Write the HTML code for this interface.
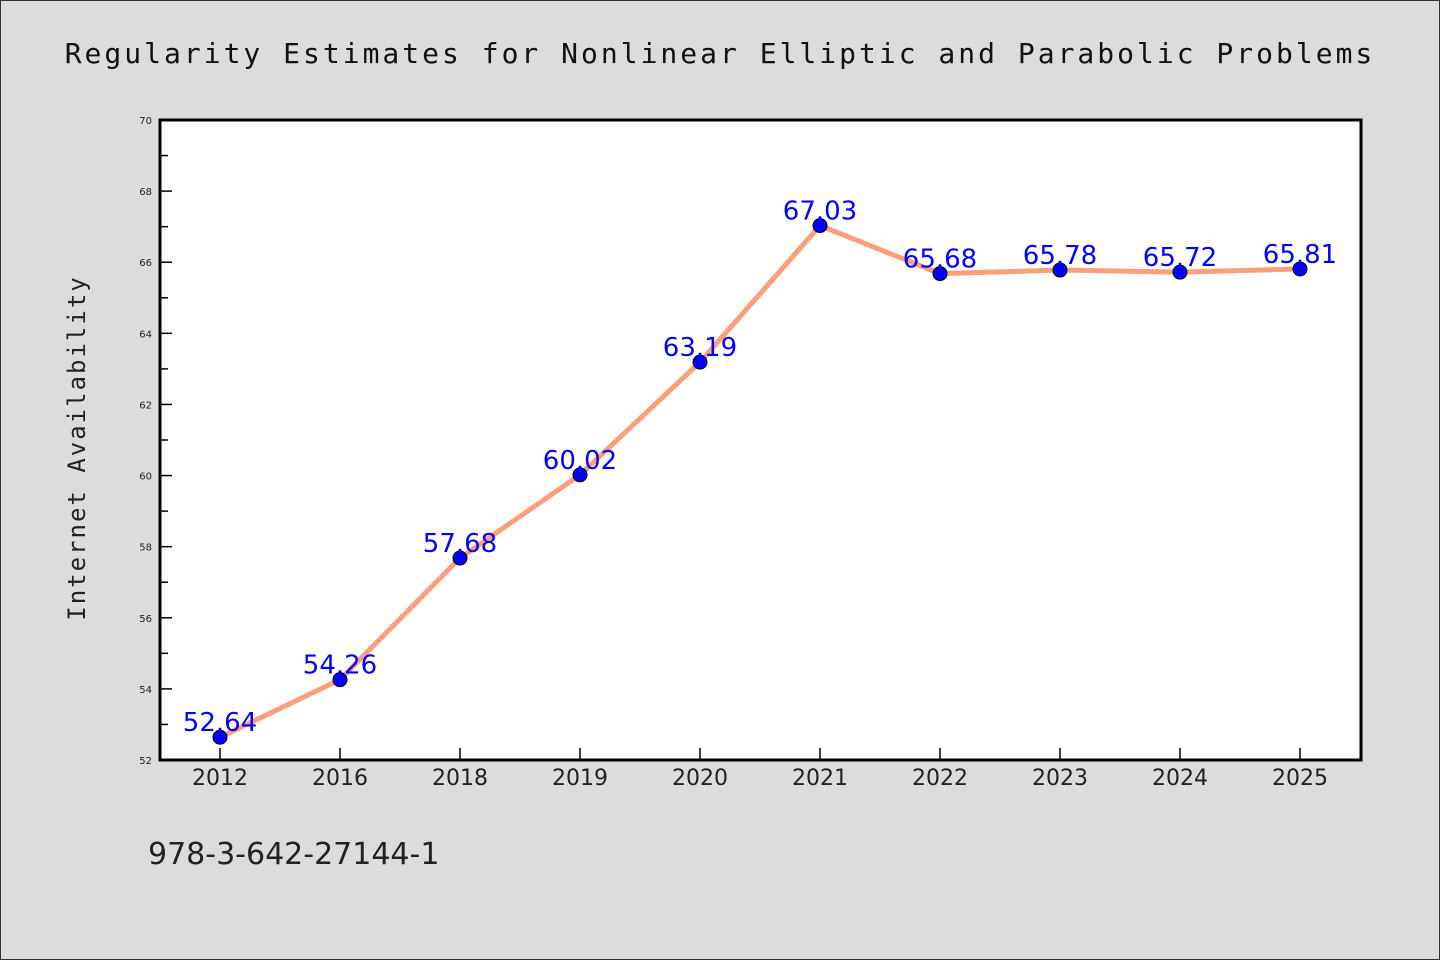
<!DOCTYPE html>
<html><head><meta charset="utf-8"><style>
html,body{margin:0;padding:0;background:#dcdcdc;}
svg{display:block;}
</style></head><body>
<svg id="chart" width="1440" height="960" xmlns="http://www.w3.org/2000/svg">
<rect x="0.5" y="0.5" width="1439" height="959" fill="#dcdcdc" stroke="#333"/>
<text x="720" y="63" text-anchor="middle" font-family="DejaVu Sans Mono, Liberation Mono, monospace" font-size="28" letter-spacing="3" fill="#111">Regularity Estimates for Nonlinear Elliptic and Parabolic Problems</text>
<rect x="160" y="120" width="1201" height="640" fill="#fff"/>
<g id="axes"></g>
<g id="marks"></g>
<rect x="160" y="120" width="1201" height="640" fill="none" stroke="#000" stroke-width="3"/>
<text transform="translate(85,448) rotate(-90)" text-anchor="middle" font-family="DejaVu Sans Mono, Liberation Mono, monospace" font-size="24" letter-spacing="2" fill="#222">Internet Availability</text>
<text x="148" y="864" font-family="DejaVu Sans, Liberation Sans, sans-serif" font-size="30" fill="#222">978-3-642-27144-1</text>
</svg>
<script>
const categories=["2012","2016","2018","2019","2020","2021","2022","2023","2024","2025"];
const values=[52.64,54.26,57.68,60.02,63.19,67.03,65.68,65.78,65.72,65.81];
const yTicks=[52,54,56,58,60,62,64,66,68,70];
const NS="http://www.w3.org/2000/svg";
const X0=160,X1=1360,Y0=760,Y1=120,YMIN=52,YMAX=70;
const step=(X1-X0)/categories.length;
function xs(i){return X0+step*(i+0.5);}
function ys(v){return Y0-(v-YMIN)/(YMAX-YMIN)*(Y0-Y1);}
function mk(tag,attrs,parent){const e=document.createElementNS(NS,tag);for(const k in attrs)e.setAttribute(k,attrs[k]);parent.appendChild(e);return e;}
const axes=document.getElementById('axes'),marks=document.getElementById('marks');
yTicks.forEach((t,i)=>{
  const y=ys(t);
  const tk=mk('line',{x1:X0,x2:X0+12,y1:y,y2:y,stroke:'#000','stroke-width':1.5},axes);
  
  
  const lb=mk('text',{x:X0-8,y:y+4,'text-anchor':'end','font-family':'DejaVu Sans, Liberation Sans, sans-serif','font-size':10,fill:'#222'},axes);
  lb.textContent=t;
  
  
  if(i<yTicks.length-1){
    const ym=ys(t+1);
    const mt=mk('line',{x1:X0,x2:X0+8,y1:ym,y2:ym,stroke:'#000','stroke-width':1.5},axes);
    
    
  }
});
categories.forEach((c,i)=>{
  const x=xs(i);
  const tk=mk('line',{x1:x,x2:x,y1:Y0,y2:Y0-12,stroke:'#000','stroke-width':1.5},axes);
  
  
  const lb=mk('text',{x:x,y:Y0+25,'text-anchor':'middle','font-family':'DejaVu Sans, Liberation Sans, sans-serif','font-size':22,fill:'#222'},axes);
  lb.textContent=c;
  
  
});
const pts=values.map((v,i)=>xs(i)+','+ys(v)).join(' ');
const line=mk('polyline',{points:pts,fill:'none',stroke:'#ff9e7a','stroke-width':5,'stroke-linejoin':'round'},marks);


values.forEach((v,i)=>{
  const c=mk('circle',{cx:xs(i),cy:ys(v),r:7,fill:'#0000ff',stroke:'#000','stroke-width':1},marks);
  
  
  const t=mk('text',{x:xs(i),y:ys(v)-6,'text-anchor':'middle','font-family':'DejaVu Sans, Liberation Sans, sans-serif','font-size':26,fill:'#0000ff'},marks);
  t.textContent=v.toFixed(2);
  
  
});
</script>
</body></html>
